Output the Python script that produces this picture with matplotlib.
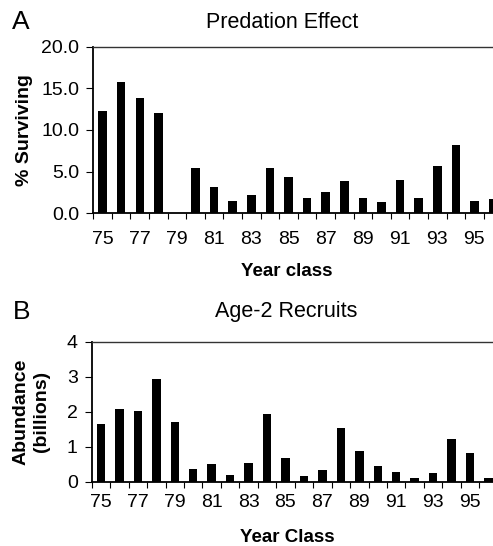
import numpy as np
import matplotlib.pyplot as plt

plt.rcParams['font.family'] = ['Liberation Sans', 'DejaVu Sans']

years = list(range(75, 97))
surviving = [12.3, 15.8, 13.8, 12.1, 0.0, 5.4, 3.1, 1.5, 2.2, 5.4, 4.3, 1.8,
             2.6, 3.9, 1.8, 1.4, 4.0, 1.8, 5.7, 8.2, 1.5, 1.7]
recruits = [1.64, 2.08, 2.03, 2.93, 1.70, 0.35, 0.50, 0.19, 0.53, 1.93, 0.68, 0.16,
            0.33, 1.53, 0.89, 0.44, 0.27, 0.12, 0.24, 1.23, 0.81, 0.10]
label_years = [str(y) for y in years if y % 2 == 1]

W, H = 493, 546
fig = plt.figure(figsize=(W / 100, H / 100), dpi=100)


def panel(rect, vals, ymax, yticks, yfmt, lab_pad):
    ax = fig.add_axes(rect)
    x = np.arange(len(vals))
    ax.bar(x, vals, width=0.46, color='black')
    ax.set_xlim(-0.5, len(vals) - 0.5)
    ax.set_ylim(0, ymax)
    ax.set_yticks(yticks)
    ax.set_yticklabels([yfmt.format(v) for v in yticks])
    ax.set_xticks(x[::2])
    ax.set_xticklabels(label_years)
    ax.set_xticks(np.arange(-0.5, len(vals)), minor=True)
    ax.tick_params(axis='x', which='major', length=0, pad=lab_pad, labelsize=14)
    ax.tick_params(axis='x', which='minor', length=4, width=0.8, direction='out')
    ax.tick_params(axis='y', length=5, width=0.8, pad=5, labelsize=14)
    ax.spines['right'].set_visible(False)
    ax.spines['left'].set_linewidth(1.3)
    ax.spines['bottom'].set_linewidth(1.3)
    ax.spines['top'].set_linewidth(1.0)
    ax.spines['top'].set_color('#333333')
    return ax


ax1 = panel([93.3 / W, 1 - 213.3 / H, 409 / W, 166.6 / H], surviving, 20,
            [0, 5, 10, 15, 20], '{:.1f}', 12.5)
ax1.set_ylabel('% Surviving', fontsize=14, fontweight='bold', labelpad=6)

ax2 = panel([91.7 / W, 1 - 481.7 / H, 406 / W, 139.7 / H], recruits, 4,
            [0, 1, 2, 3, 4], '{:d}', 9)
ax2.set_ylabel('Abundance\n(billions)', fontsize=14, fontweight='bold', labelpad=12,
               linespacing=1.25)

fig.text(21 / W, 1 - 22 / H, 'A', fontsize=19, ha='center', va='center')
fig.text(282 / W, 1 - 23 / H, 'Predation Effect', fontsize=15.5, ha='center', va='center')
fig.text(287 / W, 1 - 272 / H, 'Year class', fontsize=13.5, fontweight='bold',
         ha='center', va='center')
fig.text(22 / W, 1 - 312 / H, 'B', fontsize=19, ha='center', va='center')
fig.text(286 / W, 1 - 312 / H, 'Age-2 Recruits', fontsize=15.5, ha='center', va='center')
fig.text(287 / W, 1 - 538 / H, 'Year Class', fontsize=13.5, fontweight='bold',
         ha='center', va='center')

fig.savefig('out.png', dpi=100)
